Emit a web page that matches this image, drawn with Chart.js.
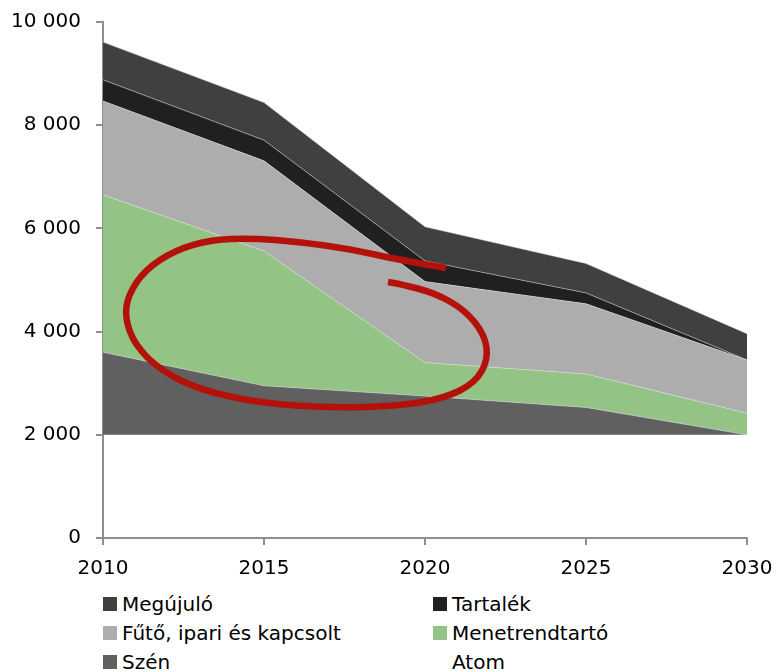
<!DOCTYPE html>
<html>
<head>
<meta charset="utf-8">
<script src="https://cdn.jsdelivr.net/npm/chart.js@4/dist/chart.umd.min.js"></script>
<style>
  html, body { margin: 0; padding: 0; background: #fff; }
  #wrap { position: relative; width: 777px; height: 672px; }
  #chartBox { position: absolute; left: 0; top: 0; width: 777px; height: 590px; }
  #legend { position: absolute; left: 103px; top: 592px; width: 660px;
            display: grid; grid-template-columns: 330px 330px; row-gap: 5px;
            font-family: "DejaVu Sans", sans-serif; font-size: 20px; color: #000; }
  .item { display: flex; align-items: center; height: 24px; }
  .box { width: 14px; height: 14px; margin-right: 5px; flex: none; }
</style>
</head>
<body>
<div id="wrap">
  <div id="chartBox"><canvas id="mixChart"></canvas></div>
  <div id="legend"></div>
</div>
<script>
document.addEventListener("DOMContentLoaded", function () {

    const years = ["2010", "2015", "2020", "2025", "2030"];
    const yTicks = [0, 2000, 4000, 6000, 8000, 10000];

    // stacked from bottom to top
    const atom = [2000, 2000, 2000, 2000, 2000];
    const szen = [1600, 950, 750, 530, 0];
    const menetrend = [3050, 2610, 650, 650, 420];
    const futo = [1820, 1750, 1570, 1360, 1030];
    const tartalek = [410, 400, 400, 210, 0];
    const megujulo = [730, 730, 660, 570, 510];

    // hand-drawn red mark, as [year, value]
    const scribble = [
        [2020.65, 5233], [2019.22, 5388], [2017.67, 5601], [2016.12, 5736],
        [2014.57, 5814], [2013.32, 5775], [2012.24, 5581], [2011.30, 5194],
        [2010.78, 4709], [2010.68, 4264], [2010.99, 3740], [2011.77, 3256],
        [2013.01, 2868], [2014.88, 2616], [2017.05, 2519], [2019.22, 2558],
        [2020.62, 2713], [2021.55, 3004], [2021.96, 3450], [2021.86, 3934],
        [2021.24, 4419], [2020.31, 4748], [2019.22, 4922], [2018.85, 4961]
    ];

    const font = { family: "DejaVu Sans", size: 20 };
    const axisGray = "#8f8f8f";
    const edge = "rgba(230, 230, 230, 0.8)";

    function area(label, data, color, fill, legendBox) {
        return {
            label: label,
            data: data,
            backgroundColor: color,
            borderColor: legendBox ? edge : "rgba(0,0,0,0)",
            borderWidth: legendBox ? 0.6 : 0,
            pointRadius: 0,
            tension: 0,
            fill: fill,
            legendBox: legendBox
        };
    }

    const datasets = [
        area("Atom", atom, "rgba(255,255,255,0)", "origin", false),
        area("Szén", szen, "#606060", "-1", true),
        area("Menetrendtartó", menetrend, "#94c386", "-1", true),
        area("Fűtő, ipari és kapcsolt", futo, "#adadad", "-1", true),
        area("Tartalék", tartalek, "#202020", "-1", true),
        area("Megújuló", megujulo, "#404040", "-1", true)
    ];

    const scribblePlugin = {
        id: "scribble",
        afterDatasetsDraw(chart) {
            const xs = chart.scales.x, ys = chart.scales.y, ctx = chart.ctx;
            const pts = scribble.map(p => [
                xs.getPixelForValue((p[0] - 2010) / 5),
                ys.getPixelForValue(p[1])
            ]);
            ctx.save();
            ctx.strokeStyle = "#b4110b";
            ctx.lineWidth = 6.5;
            ctx.lineCap = "butt";
            ctx.lineJoin = "round";
            ctx.beginPath();
            ctx.moveTo(pts[0][0], pts[0][1]);
            for (let i = 1; i < pts.length - 1; i++) {
                const mx = (pts[i][0] + pts[i + 1][0]) / 2;
                const my = (pts[i][1] + pts[i + 1][1]) / 2;
                ctx.quadraticCurveTo(pts[i][0], pts[i][1], mx, my);
            }
            const last = pts[pts.length - 1];
            ctx.lineTo(last[0], last[1]);
            ctx.stroke();
            ctx.restore();
        }
    };

    new Chart(document.getElementById("mixChart"), {
        type: "line",
        data: { labels: years, datasets: datasets },
        options: {
            responsive: true,
            maintainAspectRatio: false,
            animation: false,
            layout: { padding: { top: 22, right: 30, bottom: 2, left: 0 } },
            plugins: { legend: { display: false }, tooltip: { enabled: false } },
            scales: {
                x: {
                    offset: false,
                    grid: { drawOnChartArea: false, tickLength: 7, color: axisGray, lineWidth: 2 },
                    border: { color: axisGray, width: 2 },
                    ticks: { font: font, color: "#000", padding: 12, maxRotation: 0 },
                    afterFit: s => { s.height = 50; s.paddingLeft = 0; s.paddingRight = 0; }
                },
                y: {
                    stacked: true,
                    min: 0,
                    max: 10000,
                    afterBuildTicks: s => { s.ticks = yTicks.map(v => ({ value: v })); },
                    grid: { drawOnChartArea: false, tickLength: 7, color: axisGray, lineWidth: 2 },
                    border: { color: axisGray, width: 2 },
                    ticks: {
                        font: font, color: "#000", padding: 15,
                        callback: v => String(v).replace(/\B(?=(\d{3})+(?!\d))/g, " ")
                    },
                    afterFit: s => { s.width = 103; s.paddingTop = 0; s.paddingBottom = 0; }
                }
            }
        },
        plugins: [scribblePlugin]
    });

    // legend, two columns, top of stack first
    const legend = document.getElementById("legend");
    const order = [5, 4, 3, 2, 1, 0];
    order.forEach(i => {
        const ds = datasets[i];
        const item = document.createElement("div");
        item.className = "item";
        const box = document.createElement("span");
        box.className = "box";
        box.style.background = ds.legendBox ? ds.backgroundColor : "transparent";
        item.appendChild(box);
        item.appendChild(document.createTextNode(ds.label));
        legend.appendChild(item);
    });
});
</script>
</body>
</html>
